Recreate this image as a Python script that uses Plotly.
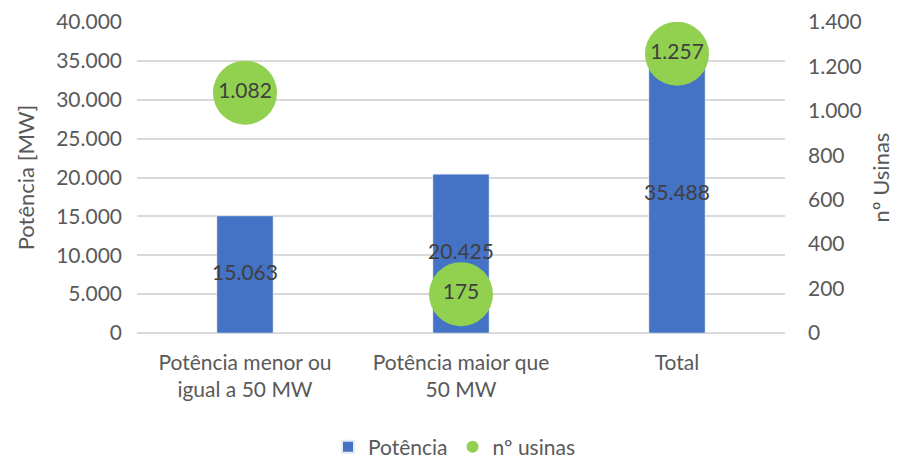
import plotly.graph_objects as go

categorias = ["Potência menor ou<br>igual a 50 MW", "Potência maior que<br>50 MW", "Total"]
potencia = [15063, 20425, 35488]
usinas = [1082, 175, 1257]

azul = "#4472C4"
verde = "#92D050"
fonte = "Lato"

fig = go.Figure()

fig.add_trace(go.Bar(
    x=categorias, y=potencia, name="Potência",
    marker=dict(color=azul), width=0.26,
))
# rótulos no meio das barras
fig.add_trace(go.Scatter(
    x=categorias, y=[v / 2 for v in potencia], mode="text",
    text=[f"{v:,}".replace(",", ".") for v in potencia],
    textfont=dict(color="#404040", size=21, family=fonte),
    showlegend=False, hoverinfo="skip",
))
fig.add_trace(go.Scatter(
    x=categorias, y=usinas, name="nº usinas", yaxis="y2", mode="markers",
    marker=dict(color=verde, size=64),
))
fig.add_trace(go.Scatter(
    x=categorias, y=usinas, yaxis="y2", mode="text",
    text=[f"{v:,}".replace(",", ".") for v in usinas],
    textfont=dict(color="#404040", size=21, family=fonte),
    showlegend=False, hoverinfo="skip",
))

# a página tem 8px de margem no body
fig.update_layout(
    width=892, height=451,
    margin=dict(l=129, r=115, t=14, b=126),
    plot_bgcolor="white", paper_bgcolor="white",
    separators=",.",
    font=dict(family=fonte, color="#595959", size=21),
    xaxis=dict(showgrid=False, tickfont=dict(size=21), ticks="", ticklabelstandoff=15,
               automargin=False),
    yaxis=dict(
        range=[0, 40000], dtick=5000, tickformat=",.0f",
        gridcolor="#D9D9D9", gridwidth=1.5, zeroline=True, zerolinecolor="#D9D9D9",
        zerolinewidth=1.5, ticklabelstandoff=14, automargin=False,
        title=dict(text="Potência [MW]", font=dict(size=22), standoff=15),
    ),
    yaxis2=dict(
        overlaying="y", side="right", range=[0, 1400], dtick=200, tickformat=",.0f",
        showgrid=False, zeroline=False, ticklabelstandoff=22, automargin=False,
        title=dict(text="nº Usinas", font=dict(size=22), standoff=12),
    ),
    legend=dict(orientation="h", x=0.5, xanchor="center", xref="container",
                y=1 - 439 / 451, yanchor="middle", yref="container",
                font=dict(size=21), itemsizing="constant"),
)

fig.write_html("out.html")
